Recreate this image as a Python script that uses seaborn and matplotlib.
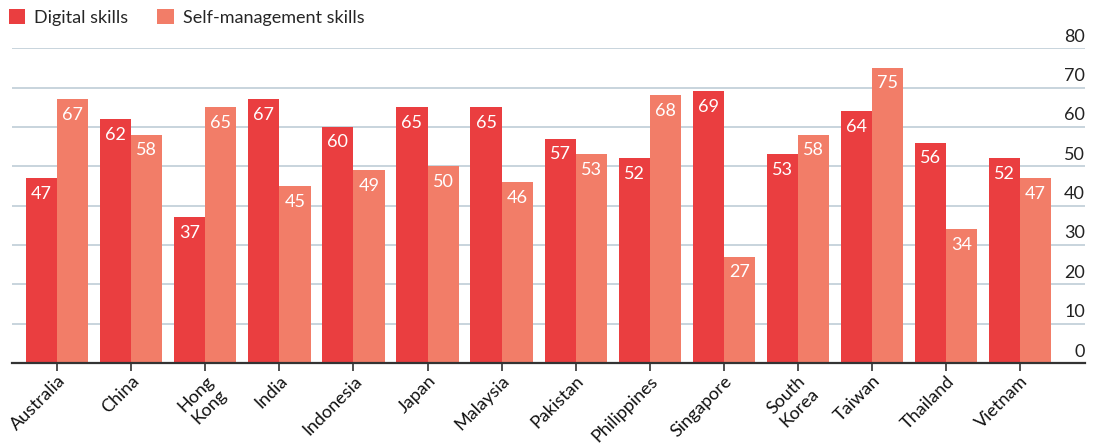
import matplotlib
matplotlib.use("Agg")
import matplotlib.pyplot as plt
import seaborn as sns
import pandas as pd
from matplotlib.transforms import blended_transform_factory

countries = ["Australia", "China", "Hong\nKong", "India", "Indonesia", "Japan", "Malaysia",
             "Pakistan", "Philippines", "Singapore", "South\nKorea", "Taiwan", "Thailand", "Vietnam"]
digital = [47, 62, 37, 67, 60, 65, 65, 57, 52, 69, 53, 64, 56, 52]
selfman = [67, 58, 65, 45, 49, 50, 46, 53, 68, 27, 58, 75, 34, 47]
series = ["Digital skills", "Self-management skills"]
yticks = [0, 10, 20, 30, 40, 50, 60, 70, 80]

df = pd.DataFrame({
    "country": countries * 2,
    "value": digital + selfman,
    "series": [series[0]] * len(countries) + [series[1]] * len(countries),
})

sns.set_theme(style="white")
plt.rcParams["font.family"] = ["Lato", "DejaVu Sans"]

fig = plt.figure(figsize=(11.01, 4.46), dpi=100)
ax = fig.add_axes([0.011, 0.186, 0.9745, 0.706])

palette = {series[0]: "#EA3E40", series[1]: "#F27D68"}
sns.barplot(data=df, x="country", y="value", hue="series", palette=palette,
            width=0.84, saturation=1, linewidth=0, edgecolor="none", ax=ax, zorder=3)

ax.set_ylim(0, 80)
ax.set_xlim(-0.61, len(countries) - 1 + 0.88)
ax.set_yticks(yticks)
ax.set_yticklabels([])
ax.tick_params(axis="y", length=0)
ax.yaxis.grid(True, color="#B9C9D3", linewidth=1.1, zorder=0)
ax.set_axisbelow(True)
for s in ["top", "right", "left"]:
    ax.spines[s].set_visible(False)
ax.spines["bottom"].set_color("#333333")
ax.spines["bottom"].set_linewidth(1.6)
ax.spines["bottom"].set_zorder(5)
ax.set_xlabel("")
ax.set_ylabel("")

trans = blended_transform_factory(ax.transAxes, ax.transData)
for t in yticks:
    ax.text(1.0, t + 0.9, str(t), transform=trans, ha="right", va="bottom",
            fontsize=13, color="#222222")

ax.tick_params(axis="x", bottom=True, length=6, width=1.2, color="#333333",
               labelsize=13, labelcolor="#111111", pad=1)
for lab in ax.get_xticklabels():
    lab.set_rotation(45)
    lab.set_ha("right")
    lab.set_rotation_mode("anchor")
    lab.set_multialignment("center")

for cont in ax.containers:
    ax.bar_label(cont, labels=[f"{v:.0f}" for v in cont.datavalues], label_type="edge",
                 padding=-17, color="white", fontsize=13)

sns.move_legend(ax, "upper left", bbox_to_anchor=(0.0, 1.0), bbox_transform=fig.transFigure,
                ncol=2, frameon=False, title=None, fontsize=13, handlelength=0.9,
                handleheight=0.9, handletextpad=0.5, columnspacing=1.6, borderaxespad=0.4,
                borderpad=0.1)

fig.savefig("out.png", dpi=100)
